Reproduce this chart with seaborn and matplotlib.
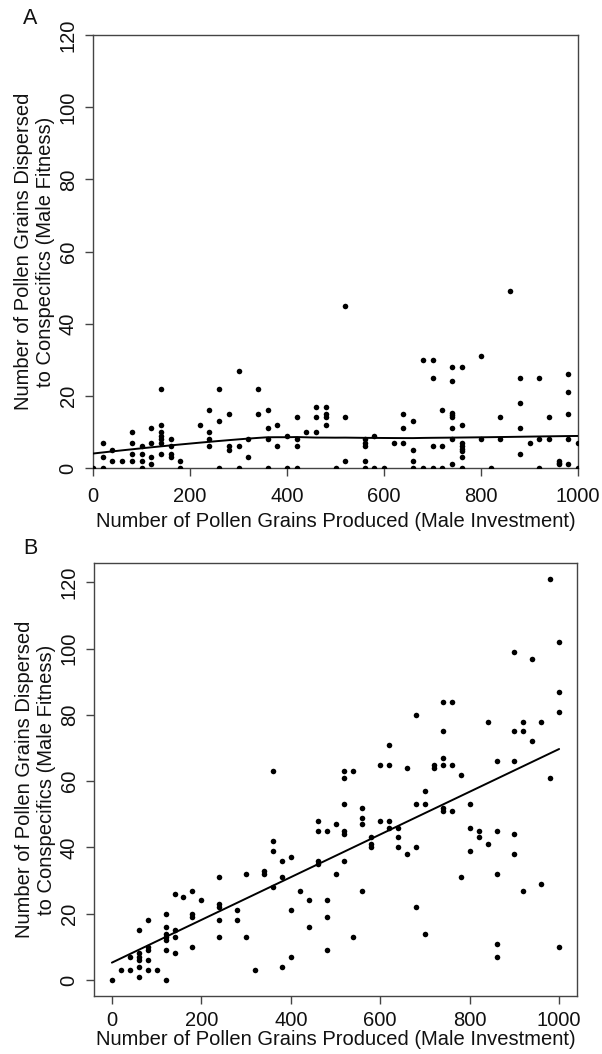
import numpy as np
import pandas as pd
import matplotlib
matplotlib.use("Agg")
import matplotlib.pyplot as plt
import seaborn as sns

# ---------------- data ----------------
# Panel A: pollen produced (x) vs pollen dispersed to conspecifics (y)
a_x = [0, 20, 20, 20, 40, 40, 60, 80, 80, 80, 80, 100, 100, 100, 100,
       120, 120, 120, 120, 140, 140, 140, 140, 140, 140, 140, 160, 160, 160, 160,
       180, 180, 220, 240, 240, 240, 240, 260, 260, 260, 280, 280, 280,
       300, 300, 300, 320, 320, 340, 340, 360, 360, 360, 360, 380, 380,
       400, 400, 420, 420, 420, 420, 440, 460, 460, 460, 480, 480, 480, 480,
       500, 520, 520, 520, 560, 560, 560, 560, 560, 580, 580, 600, 620,
       640, 640, 640, 660, 660, 660, 660, 680, 680, 700, 700, 700, 700,
       720, 720, 720, 740, 740, 740, 740, 740, 740, 740, 740,
       760, 760, 760, 760, 760, 760, 760, 760, 800, 800, 820, 840, 840, 860,
       880, 880, 880, 880, 900, 920, 920, 920, 940, 940, 960, 960, 960,
       980, 980, 980, 980, 980, 1000, 1000]
a_y = [0, 7, 3, 0, 5, 2, 2, 10, 7, 4, 2, 6, 4, 2, 0,
       11, 7, 3, 1, 22, 12, 10, 9, 8, 7, 4, 8, 6, 4, 3,
       2, 0, 12, 16, 10, 8, 6, 22, 13, 0, 15, 6, 5,
       27, 6, 0, 8, 3, 22, 15, 16, 11, 8, 0, 12, 6,
       9, 0, 14, 8, 6, 0, 10, 17, 14, 10, 17, 15, 14, 12,
       0, 45, 14, 2, 8, 7, 6, 2, 0, 9, 0, 0, 7,
       15, 11, 7, 13, 5, 2, 0, 30, 0, 30, 25, 6, 0,
       16, 6, 0, 28, 24, 15.2, 14.6, 14, 11, 8, 1,
       28, 12, 7, 6, 5.4, 4.8, 3, 0, 31, 8, 0, 14, 8, 49,
       25, 18, 11, 4, 7, 25, 8, 0, 14, 8, 2, 1.5, 1,
       26, 21, 15, 8, 1, 7, 0]

# Panel B
b_x = [0, 20, 40, 40, 60, 60, 60, 60, 60, 60, 80, 80, 80, 80, 80, 100,
       120, 120, 120, 120, 120, 120, 120, 140, 140, 140, 140, 160,
       180, 180, 180, 180, 200, 240, 240, 240, 240, 240, 280, 280, 300, 300,
       320, 340, 340, 360, 360, 360, 360, 380, 380, 380, 400, 400, 400, 420,
       440, 440, 460, 460, 460, 460, 480, 480, 480, 480, 500, 500,
       520, 520, 520, 520, 520, 520, 540, 540, 560, 560, 560, 560,
       580, 580, 580, 600, 600, 620, 620, 620, 620, 640, 640, 640,
       660, 660, 680, 680, 680, 680, 700, 700, 700, 720, 720,
       740, 740, 740, 740, 740, 740, 760, 760, 760, 780, 780,
       800, 800, 800, 820, 820, 840, 840, 860, 860, 860, 860, 860,
       900, 900, 900, 900, 900, 920, 920, 920, 940, 940, 960, 960,
       980, 980, 1000, 1000, 1000, 1000]
b_y = [0, 3, 3, 7, 15, 8, 7, 6, 4, 1, 18, 10, 9, 6, 3, 3,
       20, 16, 14, 13, 12, 9, 0, 26, 15, 13, 8, 25,
       27, 20, 19, 10, 24, 31, 23, 22, 18, 13, 21, 18, 32, 13,
       3, 33, 32, 63, 42, 39, 28, 36, 31, 4, 37, 21, 7, 27,
       24, 16, 48, 45, 36, 35, 45, 24, 19, 9, 47, 32,
       63, 61, 53, 45, 44, 36, 63, 13, 52, 49, 47, 27,
       43, 41, 40, 65, 48, 71, 65, 48, 46, 46, 43, 40,
       64, 38, 80, 53, 40, 22, 57, 53, 14, 65, 64,
       84, 75, 67, 65, 52, 51, 84, 65, 51, 62, 31,
       53, 46, 39, 45, 43, 78, 41, 66, 45, 32, 11, 7,
       99, 75, 66, 44, 38, 78, 75, 27, 97, 72, 78, 29,
       121, 61, 102, 87, 81, 10]

x_ticks = [0, 200, 400, 600, 800, 1000]
y_ticks = [0, 20, 40, 60, 80, 100, 120]
x_label = "Number of Pollen Grains Produced (Male Investment)"
y_label = "Number of Pollen Grains Dispersed\nto Conspecifics (Male Fitness)"
panel_labels = ["A", "B"]


def lowess(x, y, f=2 / 3, iters=3):
    x = np.asarray(x, float)
    y = np.asarray(y, float)
    n = len(x)
    r = int(np.ceil(f * n))
    h = np.array([np.sort(np.abs(x - x[i]))[r - 1] for i in range(n)])
    w = np.clip(np.abs((x[:, None] - x[None, :]) / h[:, None]), 0.0, 1.0)
    w = (1 - w ** 3) ** 3
    yest = np.zeros(n)
    delta = np.ones(n)
    for _ in range(iters + 1):
        for i in range(n):
            wt = delta * w[i]
            sw = wt.sum()
            xm = (wt * x).sum() / sw
            ym = (wt * y).sum() / sw
            sxx = (wt * (x - xm) ** 2).sum()
            b = (wt * (x - xm) * (y - ym)).sum() / sxx if sxx > 0 else 0.0
            yest[i] = ym + b * (x[i] - xm)
        res = y - yest
        s = np.median(np.abs(res))
        delta = np.clip(res / (6.0 * s), -1, 1)
        delta = (1 - delta ** 2) ** 2
    return x, yest


df_a = pd.DataFrame({"x": a_x, "y": a_y})
df_b = pd.DataFrame({"x": b_x, "y": b_y})
lx, ly = lowess(df_a["x"].values, df_a["y"].values)
fit_a = pd.DataFrame({"x": lx, "y": ly}).groupby("x", as_index=False).mean()

# ---------------- style ----------------
sns.set_theme(style="ticks")
plt.rcParams["font.family"] = ["Liberation Sans", "DejaVu Sans"]
plt.rcParams["axes.edgecolor"] = "#444444"
plt.rcParams["xtick.color"] = "#444444"
plt.rcParams["ytick.color"] = "#444444"
plt.rcParams["xtick.labelcolor"] = "#111111"
plt.rcParams["ytick.labelcolor"] = "#111111"

W, H = 602, 1054
fig = plt.figure(figsize=(W / 100, H / 100), dpi=100)
fig.patch.set_facecolor("white")

ax_a = fig.add_axes([93 / W, 1 - 468 / H, (578 - 93) / W, (468 - 35) / H])
ax_b = fig.add_axes([94 / W, 1 - 996 / H, (577 - 94) / W, (996 - 563) / H])

FS = 14.5
dot = dict(color="black", s=16, linewidth=0, zorder=3)

# Panel A
sns.scatterplot(data=df_a, x="x", y="y", ax=ax_a, **dot)
sns.lineplot(data=fit_a, x="x", y="y", ax=ax_a, color="black", linewidth=1.4,
             estimator=None, sort=True, zorder=4)
ax_a.set_xlim(0, 1000)
ax_a.set_ylim(0, 120)

# Panel B
sns.scatterplot(data=df_b, x="x", y="y", ax=ax_b, **dot)
sns.regplot(data=df_b, x="x", y="y", ax=ax_b, scatter=False, ci=None,
            line_kws=dict(color="black", linewidth=1.4, zorder=4))
ax_b.set_xlim(-40, 1040)
ax_b.set_ylim(-4.84, 125.84)

for ax, lab, ly_pos, xpad, xlpad in [(ax_a, panel_labels[0], 18, 8, 4),
                                     (ax_b, panel_labels[1], 549, 5, 0)]:
    ax.set_xticks(x_ticks)
    ax.set_yticks(y_ticks)
    ax.tick_params(axis="both", direction="out", length=6, width=1.0,
                   labelsize=FS, pad=5)
    ax.tick_params(axis="x", pad=xpad)
    ax.tick_params(axis="y", labelrotation=90)
    for t in ax.get_yticklabels():
        t.set_va("center")
    for sp in ax.spines.values():
        sp.set_visible(True)
        sp.set_linewidth(1.0)
    ax.set_xlabel(x_label, fontsize=FS, labelpad=xlpad, color="#111111")
    ax.set_ylabel(y_label, fontsize=FS, labelpad=3, color="#111111",
                  linespacing=1.15)
    fig.text(30 / W, 1 - ly_pos / H, lab, fontsize=FS + 1, ha="center",
             va="center", color="#111111")

fig.savefig("out.png", dpi=100, facecolor="white")
